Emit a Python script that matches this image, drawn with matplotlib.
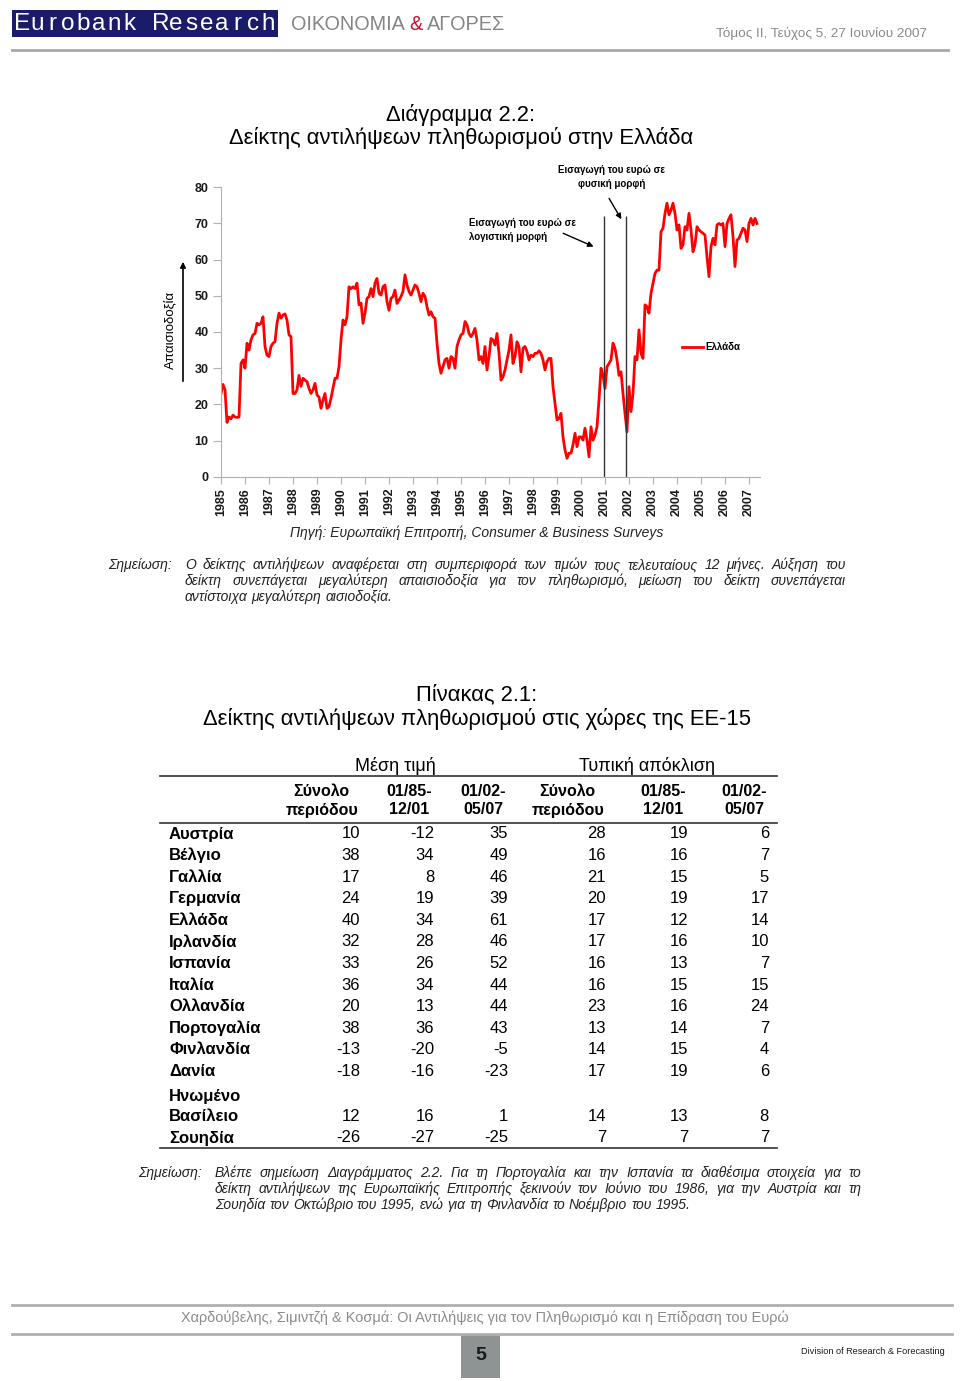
import numpy as np
import matplotlib
matplotlib.use("Agg")
import matplotlib.pyplot as plt
from matplotlib import font_manager
from matplotlib.patches import Rectangle
from matplotlib.lines import Line2D

W, H = 960, 1381

# monthly index for Greece, Jan 1985 - May 2007
greece = [
    23, 25.5, 24, 15, 16.5, 16, 17, 16.5, 16.4, 16.5, 31.3, 32.3,          # 1985
    30, 36.9, 35, 37.8, 39.2, 39.6, 42.4, 42, 42.4, 44.2, 36, 33.6,        # 1986
    33.2, 36, 36.9, 37.3, 42.4, 45.2, 43.8, 44.7, 45, 43.3, 39.2, 38.7,    # 1987
    23, 23, 24, 28, 25, 27.2, 26.7, 26.3, 24.4, 23, 24, 25.8,              # 1988
    22.6, 22, 18.9, 21.2, 23, 18.9, 19.4, 21.7, 24.4, 27.2, 27.2, 30.4,    # 1989
    37.8, 43.3, 42, 44.2, 52.5, 52, 52.5, 52, 53.5, 47.5, 48, 42.4,        # 1990
    45.2, 49.3, 49.8, 52, 49.8, 53.5, 54.8, 50.7, 50.2, 52.5, 53, 48.4,    # 1991
    46, 49.3, 49.8, 51.6, 47.9, 48.8, 49.8, 51.2, 55.8, 53, 51.2, 50.2,    # 1992
    51.6, 53, 52.5, 50.7, 48.4, 50.7, 49.8, 47, 44.7, 45.6, 44.2, 43.8,    # 1993
    36.9, 31.3, 28.6, 30.4, 32.3, 32.7, 30, 33.2, 32.7, 30, 36, 37.8,      # 1994
    39.2, 39.6, 42.9, 42, 39.6, 38.7, 39.6, 41, 37.8, 32.3, 33.2, 31.3,    # 1995
    36, 29.5, 33.2, 38.2, 37.8, 36.4, 39.6, 34.1, 26.7, 27.6, 29.5, 32.3,  # 1996
    35, 39.2, 31.3, 33.2, 37.3, 36, 29, 35.5, 36, 34.6, 32.3, 33.6,        # 1997
    33.2, 34.1, 34.1, 34.8, 34.1, 32.3, 29.5, 31.8, 32.7, 32.7, 24.9, 20.3,  # 1998
    15.7, 16.1, 17.5, 11, 7.4, 5.1, 6.5, 6.5, 8.8, 12, 8.3, 11,            # 1999
    11, 10.1, 13.4, 10.1, 5.5, 13.8, 10.1, 11.5, 13.8, 21.2, 30, 28,       # 2000
    24.4, 30.4, 31.3, 32.3, 36.9, 35.5, 32.3, 28, 29, 23, 17.5, 12.4,      # 2001
    24.9, 18, 23, 33.2, 32.3, 40.6, 34.1, 32.7, 47.5, 47, 45.2, 50.7,      # 2002
    53.5, 56.2, 57.1, 57.1, 67.7, 68.7, 72.8, 75.6, 72.4, 73.7, 75.6, 72.8,  # 2003
    68.2, 69.6, 63.1, 64.1, 69.1, 68.2, 72.8, 68.2, 62.2, 64.1, 69.1, 68.2,  # 2004
    67.7, 67.3, 66.8, 60.8, 55.3, 63.6, 65.9, 64.1, 69.6, 70, 69.6, 70,    # 2005
    63.6, 70, 71.4, 72.4, 66.4, 58.1, 65.4, 65.9, 67.3, 68.7, 68.2, 65,    # 2006
    70, 71.4, 69.6, 71.4, 70,                                              # 2007
]
years = list(range(1985, 2008))
euro_dates = [2000.95, 2001.88]

countries = ["Αυστρία", "Βέλγιο", "Γαλλία", "Γερμανία", "Ελλάδα", "Ιρλανδία", "Ισπανία",
             "Ιταλία", "Ολλανδία", "Πορτογαλία", "Φινλανδία", "Δανία",
             "Ηνωμένο\nΒασίλειο", "Σουηδία"]
mean_total = [10, 38, 17, 24, 40, 32, 33, 36, 20, 38, -13, -18, 12, -26]
mean_8501 = [-12, 34, 8, 19, 34, 28, 26, 34, 13, 36, -20, -16, 16, -27]
mean_0207 = [35, 49, 46, 39, 61, 46, 52, 44, 44, 43, -5, -23, 1, -25]
sd_total = [28, 16, 21, 20, 17, 17, 16, 16, 23, 13, 14, 17, 14, 7]
sd_8501 = [19, 16, 15, 19, 12, 16, 13, 15, 16, 14, 15, 19, 13, 7]
sd_0207 = [6, 7, 5, 17, 14, 10, 7, 15, 24, 7, 4, 6, 8, 7]
sub_headers = ["Σύνολο\nπεριόδου", "01/85-\n12/01", "01/02-\n05/07"] * 2

note_chart = ["Ο δείκτης αντιλήψεων αναφέρεται στη συμπεριφορά των τιμών τους τελευταίους 12 μήνες. Αύξηση του",
              "δείκτη συνεπάγεται μεγαλύτερη απαισιοδοξία για τον πληθωρισμό, μείωση του δείκτη συνεπάγεται",
              "αντίστοιχα μεγαλύτερη αισιοδοξία."]
note_table = ["Βλέπε σημείωση Διαγράμματος 2.2. Για τη Πορτογαλία και την Ισπανία τα διαθέσιμα στοιχεία για το",
              "δείκτη αντιλήψεων της Ευρωπαϊκής Επιτροπής ξεκινούν τον Ιούνιο του 1986, για την Αυστρία και τη",
              "Σουηδία τον Οκτώβριο του 1995, ενώ για τη Φινλανδία το Νοέμβριο του 1995."]

names = {f.name for f in font_manager.fontManager.ttflist}
SANS = "Liberation Sans" if "Liberation Sans" in names else "DejaVu Sans"
NARROW = "Liberation Sans Narrow" if "Liberation Sans Narrow" in names else SANS
plt.rcParams["font.family"] = [SANS, "DejaVu Sans"]

fig = plt.figure(figsize=(W / 100, H / 100), dpi=100)
r = fig.canvas.get_renderer()


def px(x, y):
    return (x / W, 1 - y / H)


def hline(x0, x1, y, color, lw):
    fig.add_artist(Line2D([x0 / W, x1 / W], [1 - y / H] * 2, color=color, lw=lw,
                          transform=fig.transFigure))


def width_of(t):
    return t.get_window_extent(r).width


def fit(t, target):
    t.set_fontsize(t.get_fontsize() * target / width_of(t))


# ---- header ----
fig.add_artist(Rectangle(px(12, 37), 266 / W, 27 / H, transform=fig.transFigure,
                         color="#1b1b6a", lw=0))
brand = "Eurobank Research"
for i, ch in enumerate(brand):
    fig.text(*px(22 + i * (246 / (len(brand) - 1)), 24), ch, color="white", family=NARROW,
             fontsize=17.5, ha="center", va="center")

x0 = 291
full = fig.text(*px(x0, 24), "ΟΙΚΟΝΟΜΙΑ & ΑΓΟΡΕΣ", family=NARROW, fontsize=22, va="center")
fit(full, 214)
fs = full.get_fontsize()
w_full = width_of(full)
full.remove()
tmp = fig.text(0, 0, "ΟΙΚΟΝΟΜΙΑ &", family=NARROW, fontsize=fs)
amp = fig.text(0, 0, "&", family=NARROW, fontsize=fs)
w_a, w_amp = width_of(tmp), width_of(amp)
tmp.remove()
amp.remove()
fig.text(*px(x0, 24), "ΟΙΚΟΝΟΜΙΑ", family=NARROW, fontsize=fs, va="center", color="#858585")
fig.text(*px(x0 + w_a - w_amp, 24), "&", family=NARROW, fontsize=fs, va="center", color="#c8102e")
fig.text(*px(x0 + w_full, 24), "ΑΓΟΡΕΣ", family=NARROW, fontsize=fs, va="center", ha="right",
         color="#858585")

t = fig.text(*px(927, 34), "Τόμος ΙΙ, Τεύχος 5, 27 Ιουνίου 2007", family=NARROW, fontsize=11,
             ha="right", va="center", color="#8a8a8a")
fit(t, 209)
hline(12, 948, 50, "#a8a8a8", 2)

# ---- chart ----
fig.text(*px(461, 115), "Διάγραμμα 2.2:", fontsize=15.8, ha="center", va="center")
fig.text(*px(461, 138), "Δείκτης αντιλήψεων πληθωρισμού στην Ελλάδα", fontsize=15.8,
         ha="center", va="center")

ax = fig.add_axes([221 / W, 1 - 476.7 / H, 539 / W, 289.4 / H])
dates = 1985 + np.arange(len(greece)) / 12
ax.plot(dates, greece, color="#ff0000", lw=2, label="Ελλάδα")
ax.vlines(euro_dates, 0, 72, color="#333333", lw=1)
ax.set_xlim(1985, 1985 + 539 / 24)
ax.set_ylim(0, 80)
ax.set_yticks(range(0, 81, 10))
ax.set_xticks(years)
ax.set_xticklabels([str(y) for y in years], rotation=90)
for lab in ax.get_xticklabels() + ax.get_yticklabels():
    lab.set_fontweight("bold")
    lab.set_fontsize(9)
    lab.set_color("#1a1a1a")
ax.tick_params(axis="y", length=6, color="#b0b0b0", pad=3)
ax.tick_params(axis="x", length=5, color="#b0b0b0", pad=3)
for s in ["top", "right"]:
    ax.spines[s].set_visible(False)
for s in ["left", "bottom"]:
    ax.spines[s].set_color("#b0b0b0")
ax.patch.set_alpha(0)

ax.text(1997.58, 68.1, "Εισαγωγή του ευρώ σε\nλογιστική μορφή", ha="center", va="center",
        multialignment="left", fontsize=7, fontweight="bold", linespacing=1.5)
ax.annotate("", xy=(2000.63, 63.3), xytext=(1999.15, 67.6),
            arrowprops=dict(arrowstyle="-|>", lw=1, color="black", mutation_scale=8))
ax.text(2001.29, 82.8, "Εισαγωγή του ευρώ σε\nφυσική μορφή", ha="center", va="center",
        multialignment="center", fontsize=7, fontweight="bold", linespacing=1.5, clip_on=False)
ax.annotate("", xy=(2001.74, 70.5), xytext=(2001.11, 77.6), annotation_clip=False,
            arrowprops=dict(arrowstyle="-|>", lw=1, color="black", mutation_scale=8))

leg = ax.legend(loc="center left", bbox_to_anchor=(0.855, 0.448), frameon=False,
                handlelength=2.2, handletextpad=0.25, borderpad=0, borderaxespad=0,
                prop=dict(size=7, weight="bold"))

fig.text(*px(170, 330), "Απαισιοδοξία", rotation=90, fontsize=9.5, ha="center", va="center")
ax.annotate("", xy=px(183, 259), xytext=px(183, 384), xycoords="figure fraction",
            textcoords="figure fraction",
            arrowprops=dict(arrowstyle="-|>", lw=1.2, color="black", mutation_scale=8))

fig.text(*px(477, 533), "Πηγή: Ευρωπαϊκή Επιτροπή, Consumer & Business Surveys", fontsize=10,
         style="italic", ha="center", va="center", color="#222222")


def justified(lines, x0, x1, y0, step, size):
    sp_a = fig.text(0, 0, "α α", fontsize=size, style="italic")
    sp_b = fig.text(0, 0, "αα", fontsize=size, style="italic")
    space = width_of(sp_a) - width_of(sp_b)
    sp_a.remove()
    sp_b.remove()
    for k, line in enumerate(lines):
        words = line.split()
        ts = [fig.text(0, 0, w, fontsize=size, style="italic", va="center", color="#222222")
              for w in words]
        ws = [width_of(t) for t in ts]
        last = k == len(lines) - 1
        gap = space if last else (x1 - x0 - sum(ws)) / (len(ws) - 1)
        x = x0
        for t, w in zip(ts, ws):
            t.set_position(px(x, y0 + k * step))
            x += w + gap


def note_size(lines, avail, size=10):
    nat = 0
    for line in lines[:-1]:
        t = fig.text(0, 0, line, fontsize=size, style="italic")
        nat = max(nat, width_of(t))
        t.remove()
    return size if nat <= avail * 0.99 else size * avail / nat * 0.98


fig.text(*px(108, 565), "Σημείωση:", fontsize=10, style="italic", va="center", color="#222222")
justified(note_chart, 185, 846, 565, 16, note_size(note_chart, 661))

# ---- table ----
fig.text(*px(477, 695), "Πίνακας 2.1:", fontsize=15.8, ha="center", va="center")
fig.text(*px(477, 719), "Δείκτης αντιλήψεων πληθωρισμού στις χώρες της ΕΕ-15", fontsize=15.8,
         ha="center", va="center")

col_right = [360, 434, 508, 606, 688, 769]
fig.text(*px(395, 766), "Μέση τιμή", fontsize=13, ha="center", va="center")
fig.text(*px(647, 766), "Τυπική απόκλιση", fontsize=13, ha="center", va="center")
hline(160, 777, 776, "#333333", 1.2)
for xr, lab in zip(col_right, sub_headers):
    fig.text(*px(xr - 2, 801), lab, fontsize=11.5, fontweight="bold", ha="right", va="center",
             multialignment="center", linespacing=1.25)
hline(160, 777, 823, "#333333", 1.2)

row_y = [834 + 21.6 * i for i in range(12)] + [1116.5, 1138]
columns = [mean_total, mean_8501, mean_0207, sd_total, sd_8501, sd_0207]
for i, name in enumerate(countries):
    y = row_y[i]
    if "\n" in name:
        top, bottom = name.split("\n")
        fig.text(*px(169, y - 19.5), top, fontsize=12, fontweight="bold", va="center")
        fig.text(*px(169, y), bottom, fontsize=12, fontweight="bold", va="center")
    else:
        fig.text(*px(169, y), name, fontsize=12, fontweight="bold", va="center")
    for xr, col in zip(col_right, columns):
        fig.text(*px(xr, y), str(col[i]), fontsize=12, ha="right", va="center")
hline(160, 777, 1148, "#333333", 1.2)

fig.text(*px(138, 1173), "Σημείωση:", fontsize=10, style="italic", va="center", color="#222222")
justified(note_table, 215, 861, 1173, 16, note_size(note_table, 646))

# ---- footer ----
hline(12, 952, 1305, "#b0b0b0", 2)
t = fig.text(*px(485, 1318), "Χαρδούβελης, Σιμιντζή & Κοσμά: Οι Αντιλήψεις για τον Πληθωρισμό και η Επίδραση του Ευρώ",
             family=NARROW, fontsize=12, ha="center", va="center", color="#8c8c8c")
fit(t, 606)
hline(12, 952, 1334, "#b0b0b0", 2)
fig.add_artist(Rectangle(px(461, 1378), 39 / W, 44 / H, transform=fig.transFigure,
                         color="#8e9394", lw=0))
fig.text(*px(480.5, 1355), "5", fontsize=14, fontweight="bold", family=NARROW, ha="center",
         va="center", color="#1a1a1a")
t = fig.text(*px(945, 1351), "Division of Research & Forecasting", family=NARROW, fontsize=9,
             ha="right", va="center", color="#1a1a1a")
fit(t, 144)

fig.savefig("out.png", dpi=100)
